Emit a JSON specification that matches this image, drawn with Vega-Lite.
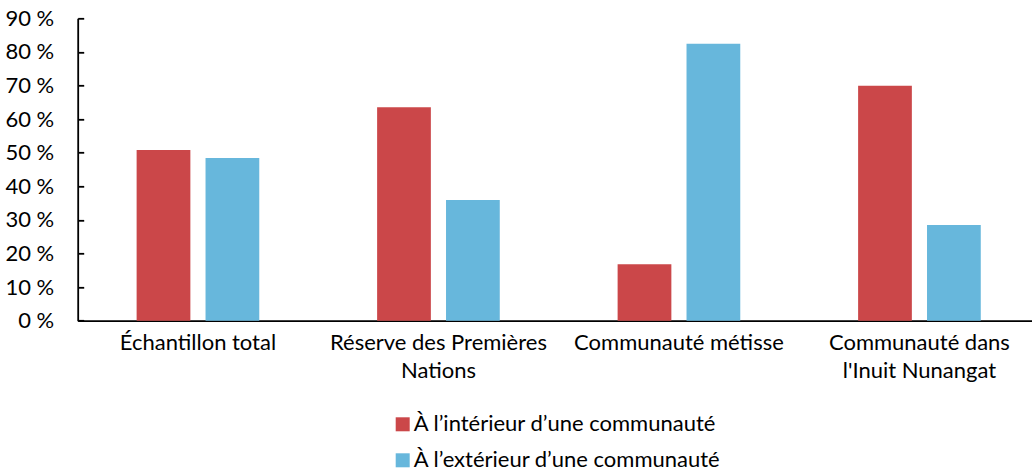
{
  "$schema": "https://vega.github.io/schema/vega-lite/v6.json",
  "width": 962,
  "height": 302.4,
  "autosize": {"type": "none"},
  "padding": {"left": 77.7, "top": 18.3, "right": 0, "bottom": 150.3},
  "background": "white",
  "config": {"view": {"stroke": null}, "font": "Lato"},
  "data": {
    "values": [
      {"categorie": "Échantillon total", "lieu": "À l’intérieur d’une communauté", "pourcentage": 50.8},
      {"categorie": "Échantillon total", "lieu": "À l’extérieur d’une communauté", "pourcentage": 48.4},
      {"categorie": "Réserve des Premières Nations", "lieu": "À l’intérieur d’une communauté", "pourcentage": 63.5},
      {"categorie": "Réserve des Premières Nations", "lieu": "À l’extérieur d’une communauté", "pourcentage": 35.9},
      {"categorie": "Communauté métisse", "lieu": "À l’intérieur d’une communauté", "pourcentage": 16.8},
      {"categorie": "Communauté métisse", "lieu": "À l’extérieur d’une communauté", "pourcentage": 82.4},
      {"categorie": "Communauté dans l'Inuit Nunangat", "lieu": "À l’intérieur d’une communauté", "pourcentage": 69.9},
      {"categorie": "Communauté dans l'Inuit Nunangat", "lieu": "À l’extérieur d’une communauté", "pourcentage": 28.5}
    ]
  },
  "mark": {"type": "bar"},
  "encoding": {
    "x": {
      "field": "categorie",
      "type": "nominal",
      "sort": ["Échantillon total", "Réserve des Premières Nations", "Communauté métisse", "Communauté dans l'Inuit Nunangat"],
      "scale": {"paddingInner": 0.49, "paddingOuter": 0.245},
      "axis": {
        "title": null,
        "ticks": false,
        "labelAngle": 0,
        "labelFont": "Lato",
        "labelFontSize": 22,
        "labelColor": "black",
        "labelLineHeight": 28,
        "labelPadding": 12,
        "labelBaseline": "top",
        "labelLimit": 400,
        "domainColor": "black",
        "domainWidth": 1.8,
        "labelExpr": "datum.label == 'Réserve des Premières Nations' ? ['Réserve des Premières', 'Nations'] : datum.label == \"Communauté dans l'Inuit Nunangat\" ? ['Communauté dans', \"l'Inuit Nunangat\"] : datum.label"
      }
    },
    "xOffset": {
      "field": "lieu",
      "type": "nominal",
      "sort": ["À l’intérieur d’une communauté", "À l’extérieur d’une communauté"],
      "scale": {"paddingInner": 0.22, "paddingOuter": 0}
    },
    "y": {
      "field": "pourcentage",
      "type": "quantitative",
      "scale": {"domain": [0, 90], "nice": false},
      "axis": {
        "title": null,
        "grid": false,
        "values": [0, 10, 20, 30, 40, 50, 60, 70, 80, 90],
        "labelExpr": "datum.value + ' %'",
        "labelFont": "Lato",
        "labelFontSize": 22,
        "labelColor": "black",
        "labelBaseline": "middle",
        "tickSize": -6,
        "tickColor": "black",
        "tickWidth": 1.8,
        "labelPadding": 30,
        "domainColor": "black",
        "domainWidth": 1.8
      }
    },
    "color": {
      "field": "lieu",
      "type": "nominal",
      "sort": ["À l’intérieur d’une communauté", "À l’extérieur d’une communauté"],
      "scale": {"range": ["#CB4749", "#67B7DC"]},
      "legend": {
        "title": null,
        "orient": "none",
        "legendX": 314,
        "legendY": 395,
        "direction": "vertical",
        "padding": 0,
        "rowPadding": 14,
        "symbolType": "square",
        "symbolSize": 196,
        "symbolStrokeWidth": 0,
        "symbolOpacity": 1,
        "labelOffset": 0,
        "labelFont": "Lato",
        "labelFontSize": 22,
        "labelColor": "black",
        "labelLimit": 500
      }
    }
  }
}
